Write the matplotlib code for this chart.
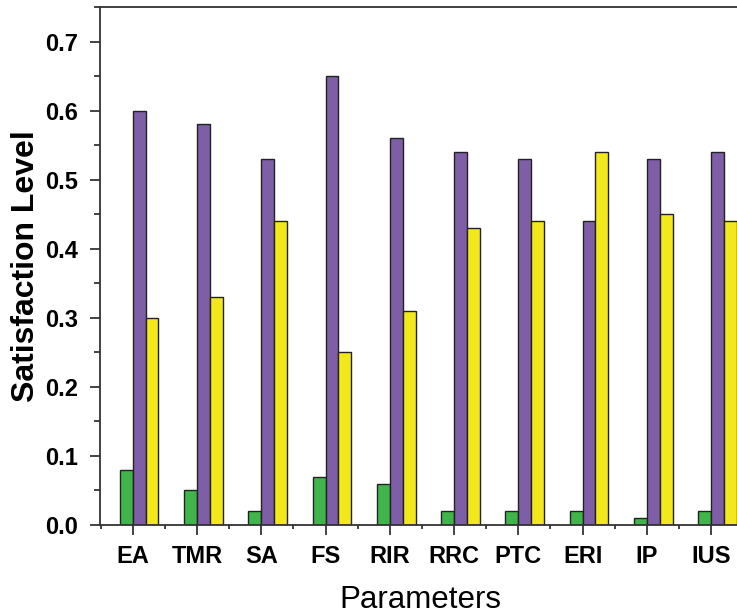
import matplotlib
matplotlib.use("Agg")
import matplotlib.pyplot as plt
import numpy as np
from matplotlib.ticker import MultipleLocator

plt.rcParams['font.family'] = ['Liberation Sans', 'DejaVu Sans']

categories = ["EA", "TMR", "SA", "FS", "RIR", "RRC", "PTC", "ERI", "IP", "IUS"]
green_vals = [0.08, 0.05, 0.02, 0.07, 0.06, 0.02, 0.02, 0.02, 0.01, 0.02]
purple_vals = [0.60, 0.58, 0.53, 0.65, 0.56, 0.54, 0.53, 0.44, 0.53, 0.54]
yellow_vals = [0.30, 0.33, 0.44, 0.25, 0.31, 0.43, 0.44, 0.54, 0.45, 0.44]

fig = plt.figure(figsize=(7.37, 6.16), dpi=100)
ax = fig.add_axes([100 / 737, 91 / 616, 640 / 737, 518 / 616])

x = np.arange(len(categories))
w = 0.2
kw = dict(width=w, edgecolor="#222222", linewidth=1.0)
ax.bar(x - 0.1, green_vals, color="#3fb54a", **kw)
ax.bar(x + 0.1, purple_vals, color="#7f5ea8", **kw)
ax.bar(x + 0.3, yellow_vals, color="#f2e81c", **kw)

ax.set_xlim(-0.51, 9.45)
ax.set_ylim(0, 0.75)

ax.set_xticks(x)
ax.set_xticklabels(categories)
ax.xaxis.set_minor_locator(MultipleLocator(1, offset=0.5))
ax.yaxis.set_major_locator(MultipleLocator(0.1))
ax.yaxis.set_minor_locator(MultipleLocator(0.05))

ax.tick_params(axis="both", which="major", direction="out", length=7.5, width=1.2,
               labelsize=17, color="#222222")
ax.tick_params(axis="y", which="minor", direction="out", length=4, width=1.2, color="#222222")
ax.tick_params(axis="x", which="minor", direction="out", length=3, width=1.2, color="#222222")
ax.tick_params(axis="y", pad=8)
ax.tick_params(axis="x", pad=7)
for lbl in ax.get_xticklabels() + ax.get_yticklabels():
    lbl.set_fontweight("bold")

ax.spines["right"].set_visible(False)
for s in ["left", "bottom", "top"]:
    ax.spines[s].set_linewidth(1.3)
    ax.spines[s].set_color("#333333")

ax.set_ylabel("Satisfaction Level", fontsize=23, fontweight="bold", labelpad=3)
ax.set_xlabel("Parameters", fontsize=22.5, labelpad=12)

fig.savefig("out.png", dpi=100)
